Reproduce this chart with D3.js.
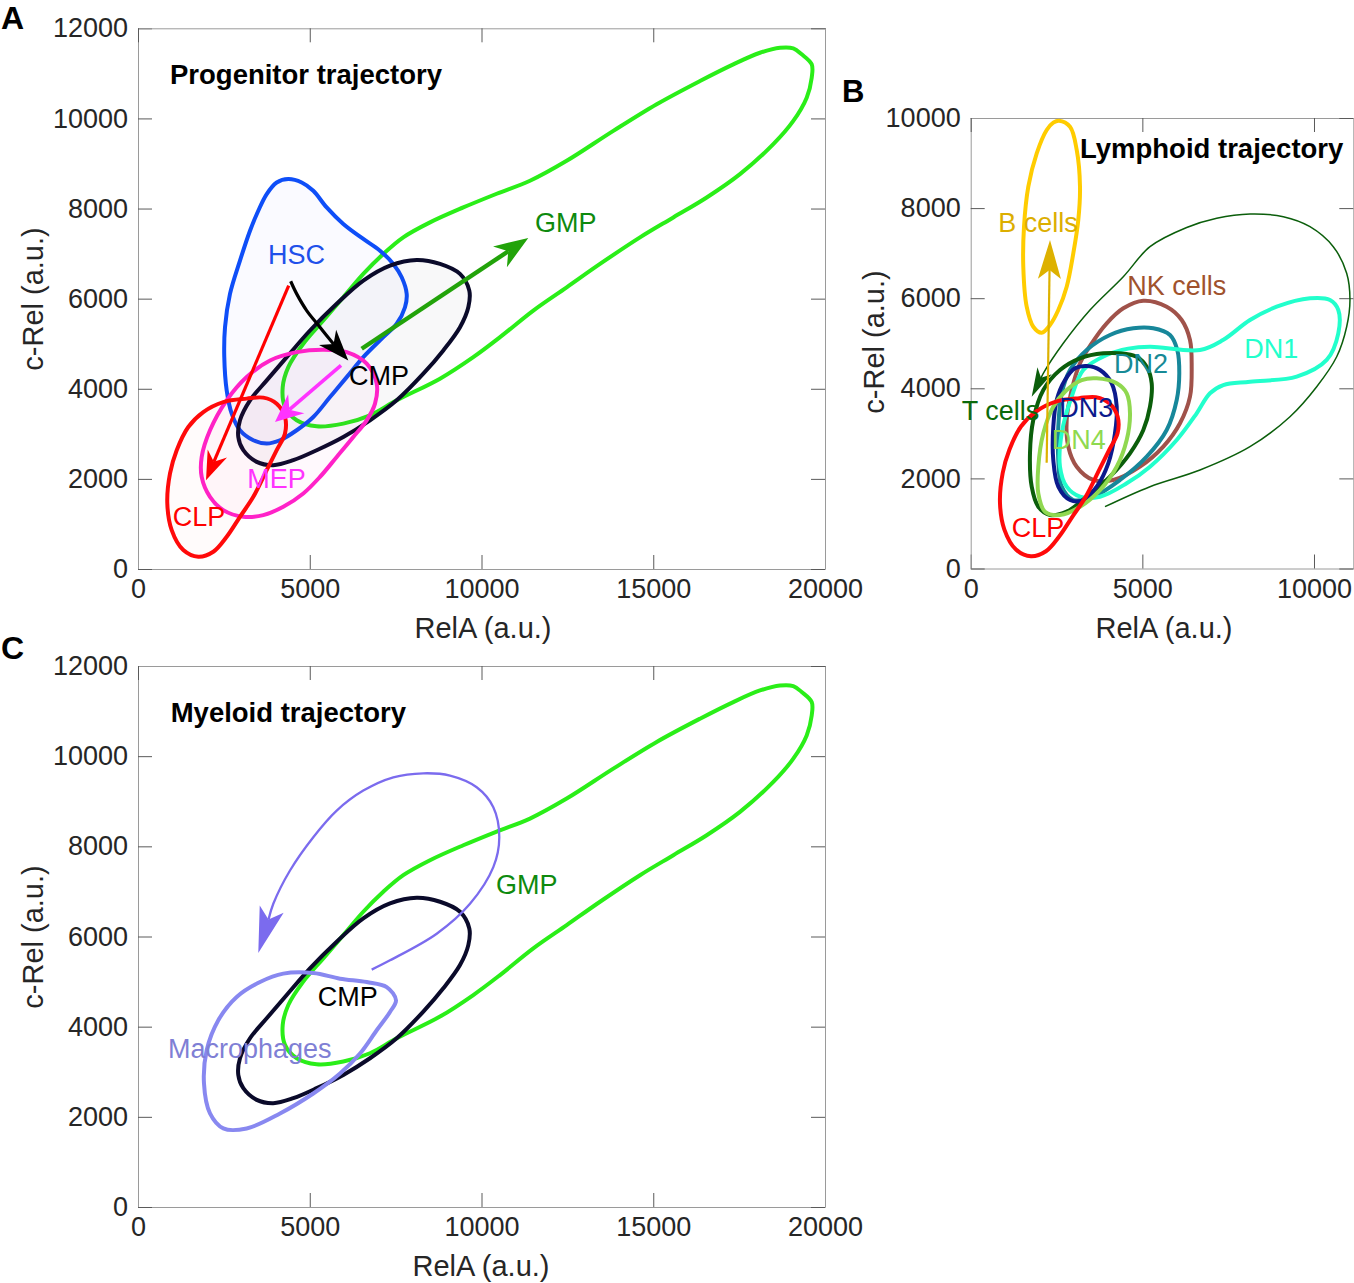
<!DOCTYPE html>
<html>
<head>
<meta charset="utf-8">
<script src="https://cdn.jsdelivr.net/npm/d3@7"></script>
<style>
  body { margin: 0; background: #fff; }
  svg text { font-family: "Liberation Sans", Arial, Helvetica, sans-serif; }
</style>
</head>
<body>
<svg id="chart" width="1354" height="1283"></svg>
<script>
// ---------------- tick values ----------------
const xTicksWide = [0, 5000, 10000, 15000, 20000];
const yTicksWide = [0, 2000, 4000, 6000, 8000, 10000, 12000];
const xTicksB = [0, 5000, 10000];
const yTicksB = [0, 2000, 4000, 6000, 8000, 10000];

// ---------------- contours (RelA, c-Rel) ----------------
const hsc = [[4376,8653],[4038,8578],[3747,8321],[3502,7951],[3261,7508],[2969,6844],[2678,6106],[2533,5366],[2512,4702],[2582,3965],[2728,3448],[2969,3079],[3357,2857],[3747,2784],[4134,2857],[4620,3079],[5103,3373],[5590,3816],[6076,4259],[6559,4702],[7141,5145],[7531,5442],[7773,5809],[7822,6106],[7677,6474],[7432,6771],[7045,7065],[6559,7324],[5977,7657],[5493,8024],[5103,8394],[4766,8578]];
const cmp = [[8114,6859],[8792,6771],[9374,6549],[9645,6179],[9616,5809],[9374,5366],[8888,4851],[8306,4334],[7531,3743],[6754,3300],[5977,2930],[5202,2636],[4521,2414],[3939,2303],[3456,2377],[3066,2636],[2920,2930],[2969,3300],[3261,3743],[3747,4186],[4329,4702],[5007,5293],[5785,5885],[6559,6401],[7336,6733]];
const gmp = [[4376,4481],[4812,4999],[5394,5515],[5977,6031],[6559,6549],[7141,6992],[7723,7360],[8501,7692],[9470,8024],[10443,8328],[11412,8616],[12480,9059],[13837,9723],[15100,10315],[16361,10831],[17330,11200],[18108,11457],[18690,11568],[19077,11555],[19322,11422],[19613,11200],[19613,10904],[19467,10461],[19077,9945],[18495,9429],[17525,8764],[16556,8246],[15584,7803],[14614,7360],[13450,6771],[12480,6252],[11508,5736],[10539,5145],[9761,4702],[8792,4224],[7531,3743],[6754,3411],[5977,3227],[5202,3167],[4620,3300],[4279,3595],[4213,4038]];
const mep = [[5394,4866],[6076,4813],[6658,4556],[6949,4113],[6900,3670],[6658,3300],[6268,2930],[5785,2487],[5298,2044],[4812,1676],[4230,1380],[3648,1196],[3066,1158],[2483,1307],[2096,1601],[1854,2044],[1854,2487],[2096,3079],[2582,3743],[3164,4259],[3843,4629],[4620,4813]];
const clp = [[3164,3781],[3648,3803],[4038,3670],[4279,3373],[4279,3006],[4038,2636],[3747,2193],[3357,1601],[2969,1158],[2582,715],[2192,383],[1755,272],[1319,421],[981,864],[853,1455],[932,2120],[1127,2636],[1464,3152],[1901,3484],[2483,3705]];

const bCells = [[2572,9940],[2893,9807],[3088,9290],[3184,8475],[3134,7736],[2989,6997],[2796,6255],[2552,5738],[2310,5405],[2068,5234],[1823,5367],[1631,5811],[1532,6699],[1553,7587],[1678,8475],[1923,9216],[2214,9734],[2406,9896]];
const nkCells = [[5028,5945],[5709,5811],[6146,5516],[6388,5072],[6437,4479],[6388,3814],[6097,3223],[5610,2704],[4932,2260],[4154,1965],[3571,1965],[3088,2260],[2843,2704],[2796,3296],[2942,3962],[3184,4555],[3525,4999],[3962,5443],[4445,5776]];
const dn1 = [[5223,4923],[6679,4850],[7349,5072],[8136,5516],[8913,5811],[9883,5998],[10466,5960],[10708,5738],[10708,5221],[10370,4629],[9496,4258],[8136,4147],[7358,4073],[6970,3889],[6583,3445],[6001,2852],[5223,2260],[4544,1891],[3766,1594],[3184,1594],[2796,1816],[2601,2260],[2651,3001],[2942,3814],[3280,4406],[3962,4739],[4590,4880]];
const dn2 = [[5319,5332],[5805,5183],[6018,4850],[6076,4333],[6001,3740],[5709,3074],[5127,2482],[4349,1965],[3571,1594],[2989,1520],[2651,1816],[2552,2408],[2552,3148],[2651,3889],[2893,4406],[3379,4850],[4057,5183],[4736,5332]];
const dn3 = [[3379,4495],[3766,4406],[4107,4111],[4253,3592],[4203,3001],[4008,2335],[3670,1816],[3280,1520],[2893,1520],[2552,1816],[2406,2408],[2406,3148],[2505,3740],[2747,4184],[3038,4444]];
const dn4 = [[3670,4222],[4253,4111],[4544,3889],[4640,3445],[4544,2852],[4253,2260],[3766,1742],[3184,1372],[2601,1188],[2164,1261],[1969,1669],[1969,2260],[2115,3001],[2406,3592],[2796,3962],[3233,4184]];
const tCells = [[4544,4761],[4835,4701],[5127,4479],[5272,4111],[5223,3592],[5028,3074],[4640,2557],[4057,2038],[3379,1594],[2796,1261],[2310,1188],[1969,1372],[1777,1816],[1727,2557],[1823,3296],[2115,3962],[2601,4406],[3184,4666],[3863,4777]];

const macrophages = [[4230,5176],[5103,5189],[5881,5065],[6658,4990],[7240,4879],[7511,4585],[7336,4326],[6949,3920],[6463,3404],[5881,2961],[5103,2518],[4134,2075],[3164,1743],[2483,1743],[2096,2075],[1921,2740],[2000,3477],[2338,4142],[2873,4658],[3552,4990]];

// ---------------- trajectory arrows ----------------
const arrowHscClp = [[4387,6290],[1980,1971]];
const arrowHscCmp = [[4445,6386],[4620,6106],[4911,5736],[5298,5367],[5686,4999],[6122,4629]];
const arrowCmpGmp = [[6512,4888],[11362,7347]];
const arrowCmpMep = [[5910,4518],[3988,3262]];
const arrowClpB = [[2213,2347],[2310,7294]];
const arrowClpT = [[3912,1372],[5222,1816],[6679,2186],[8135,2704],[9300,3370],[10079,4036],[10661,4701],[10952,5367],[11048,5960],[10952,6553],[10562,7143],[9883,7587],[9106,7809],[8136,7869],[7166,7774],[6292,7569],[5223,7143],[4445,6477],[3475,5738],[2697,4999],[2115,4333],[1777,3814]];
const arrowMacro = [[6803,5265],[7336,5471],[8696,6062],[9665,6726],[10344,7538],[10518,8203],[10344,8867],[9860,9310],[9083,9569],[8306,9620],[7432,9531],[6559,9236],[5785,8793],[5103,8203],[4425,7464],[3939,6726],[3502,5632]];

// ---------------- labels (text, RelA, c-Rel) ----------------
const labelsA = [["HSC",3785,6777],["CMP",6143,4075],["MEP",3182,1787],["CLP",1010,952],["GMP",11557,7471]];
const labelsB = [["B cells",804,7476],["NK cells",4562,6071],["DN1",7970,4666],["DN2",4174,4333],["DN3",2581,3370],["DN4",2359,2646],["T cells",-262,3296],["CLP",1194,706]];
const labelsC = [["GMP",10422,6948],["CMP",5231,4452],["Macrophages",873,3316]];
const titles = ["Progenitor trajectory","Lymphoid trajectory","Myeloid trajectory"];

// ---------------- styles ----------------
const labelColor = {
  "HSC":"#1f50ea","CMP":"#000000","MEP":"#ff33ff","CLP":"#ff0000","GMP":"#0e8a0e",
  "B cells":"#dcae00","NK cells":"#a0522d","DN1":"#22ffcc","DN2":"#178a96","DN3":"#0c1a8c",
  "DN4":"#8fd94f","T cells":"#0b6a0b","Macrophages":"#7f7fd5"
};
const FONT = '"Liberation Sans", Arial, Helvetica, sans-serif';
const LW = 4;
const svg = d3.select("#chart");

function makePanel(cfg) {
  const x = d3.scaleLinear().domain(cfg.xDomain).range([cfg.left, cfg.right]);
  const y = d3.scaleLinear().domain(cfg.yDomain).range([cfg.bottom, cfg.top]);
  const g = svg.append("g");
  const styleAxis = (sel) => {
    sel.attr("font-family", null).attr("font-size", null);
    sel.select(".domain").attr("stroke", "#9a9a9a").attr("stroke-width", 1);
    sel.selectAll(".tick line").attr("stroke", "#5a5a5a").attr("stroke-width", 1);
    sel.selectAll(".tick text").attr("font-size", 27).attr("fill", "#262626").style("font-family", FONT);
  };
  const fmt = d3.format("d");
  g.append("g").attr("transform", `translate(0,${cfg.bottom})`)
    .call(d3.axisBottom(x).tickValues(cfg.xTicks).tickSizeInner(-14).tickSizeOuter(0).tickPadding(10).tickFormat(fmt))
    .call(styleAxis);
  g.append("g").attr("transform", `translate(${cfg.left},0)`)
    .call(d3.axisLeft(y).tickValues(cfg.yTicks).tickSizeInner(-14).tickSizeOuter(0).tickPadding(10).tickFormat(fmt))
    .call(styleAxis);
  g.append("g").attr("transform", `translate(0,${cfg.top})`)
    .call(d3.axisTop(x).tickValues(cfg.xTicks).tickSizeInner(-14).tickSizeOuter(0).tickFormat(() => ""))
    .call(styleAxis);
  g.append("g").attr("transform", `translate(${cfg.right},0)`)
    .call(d3.axisRight(y).tickValues(cfg.yTicks).tickSizeInner(-14).tickSizeOuter(0).tickFormat(() => ""))
    .call(styleAxis);
  g.append("text").attr("x", cfg.xLabelX).attr("y", cfg.xLabelY).attr("text-anchor", "middle")
    .attr("font-size", 29).attr("fill", "#262626").text("RelA (a.u.)");
  g.append("text").attr("transform", `translate(${cfg.yLabelX},${cfg.yLabelY}) rotate(-90)`)
    .attr("text-anchor", "middle").attr("font-size", 29).attr("fill", "#262626").text("c-Rel (a.u.)");
  g.append("text").attr("x", cfg.letterX).attr("y", cfg.letterY).attr("font-size", cfg.letterSize)
    .attr("font-weight", "bold").attr("fill", "#000").text(cfg.letter);
  const plot = g.append("g");
  return { g: plot, x, y };
}

const closedLine = (x, y) => d3.line().x(d => x(d[0])).y(d => y(d[1])).curve(d3.curveCatmullRomClosed.alpha(0.5));

function contour(p, pts, stroke, width, fill, fillOpacity) {
  p.g.append("path").attr("d", closedLine(p.x, p.y)(pts))
    .attr("fill", fill || "none").attr("fill-opacity", fillOpacity || 0)
    .attr("stroke", stroke).attr("stroke-width", width).attr("stroke-linejoin", "round");
}

function arrow(p, pts, color, width, L, W, notch) {
  const P = pts.map(d => [p.x(d[0]), p.y(d[1])]);
  const tip = P[P.length - 1], prev = P[P.length - 2];
  let dx = tip[0] - prev[0], dy = tip[1] - prev[1];
  const len = Math.hypot(dx, dy); dx /= len; dy /= len;
  const bx = tip[0] - dx * L, by = tip[1] - dy * L;
  const nx = -dy, ny = dx;
  const b1 = [bx + nx * W, by + ny * W], b2 = [bx - nx * W, by - ny * W];
  const nt = [tip[0] - dx * (L - notch), tip[1] - dy * (L - notch)];
  const shaft = P.slice(0, -1).concat([nt]);
  p.g.append("path").attr("d", d3.line().curve(d3.curveCatmullRom.alpha(0.5))(shaft))
    .attr("fill", "none").attr("stroke", color).attr("stroke-width", width);
  p.g.append("path").attr("d", d3.line()([tip, b1, nt, b2]) + "Z").attr("fill", color).attr("stroke", "none");
}

function labels(p, list, size) {
  list.forEach(([t, vx, vy]) => {
    p.g.append("text").attr("x", p.x(vx)).attr("y", p.y(vy)).attr("font-size", size || 27)
      .attr("fill", labelColor[t]).text(t);
  });
}
function title(p, t, vx, vy) {
  p.g.append("text").attr("x", p.x(vx)).attr("y", p.y(vy)).attr("font-size", 27.5)
    .attr("font-weight", "bold").attr("fill", "#000").text(t);
}

// ---------------- Panel A ----------------
const pA = makePanel({ left: 138, right: 825, top: 28.3, bottom: 569, xDomain: [0, 20000], yDomain: [0, 12000],
  xTicks: xTicksWide, yTicks: yTicksWide, xLabelX: 483, xLabelY: 638, yLabelX: 43, yLabelY: 299,
  letter: "A", letterX: 1, letterY: 29, letterSize: 32 });
contour(pA, gmp, "#2aee18", LW, "none", 0);
contour(pA, hsc, "#0e4ef8", LW, "#3a3aff", 0.025);
contour(pA, cmp, "#0a0a2a", LW, "#404060", 0.035);
contour(pA, mep, "#ff22c8", LW, "#ff30c0", 0.028);
contour(pA, clp, "#ff0a0a", LW, "#ff2020", 0.02);
arrow(pA, arrowCmpGmp, "#22a30a", 4.4, 34, 12.5, 10);
arrow(pA, arrowHscClp, "#ff0000", 3.2, 29, 10.5, 9);
arrow(pA, arrowHscCmp, "#000000", 3.2, 31, 11.5, 9);
arrow(pA, arrowCmpMep, "#ff33ff", 3.6, 28, 12.5, 9);
labels(pA, labelsA);
title(pA, titles[0], 932, 10764);

// ---------------- Panel B ----------------
const pB = makePanel({ left: 970.7, right: 1353.3, top: 118, bottom: 568.5, xDomain: [0, 11145], yDomain: [0, 10000],
  xTicks: xTicksB, yTicks: yTicksB, xLabelX: 1164, xLabelY: 638, yLabelX: 884, yLabelY: 342,
  letter: "B", letterX: 842, letterY: 102, letterSize: 31 });
contour(pB, bCells, "#ffcc00", LW);
contour(pB, nkCells, "#a0524a", LW);
contour(pB, dn2, "#17879a", LW);
contour(pB, dn1, "#22ffcc", LW);
arrow(pB, arrowClpT, "#0b5e0b", 1.5, 29, 8, 8);
contour(pB, tCells, "#0b5e0b", LW);
contour(pB, dn3, "#0c1a8c", LW);
contour(pB, dn4, "#90d850", LW);
contour(pB, clp, "#ff0a0a", LW);
arrow(pB, arrowClpB, "#ddb100", 2.2, 39, 11.5, 9);
labels(pB, labelsB);
title(pB, titles[1], 3184, 9105);

// ---------------- Panel C ----------------
const pC = makePanel({ left: 138, right: 825, top: 666, bottom: 1207, xDomain: [0, 20000], yDomain: [0, 12000],
  xTicks: xTicksWide, yTicks: yTicksWide, xLabelX: 481, xLabelY: 1276, yLabelX: 43, yLabelY: 937,
  letter: "C", letterX: 1, letterY: 659, letterSize: 32 });
contour(pC, gmp, "#2aee18", LW);
contour(pC, cmp, "#0a0a2a", LW);
contour(pC, macrophages, "#8888f0", LW);
arrow(pC, arrowMacro, "#7b6bee", 2.3, 46, 12.5, 11);
labels(pC, labelsC);
title(pC, titles[2], 952, 10764);
</script>
</body>
</html>
